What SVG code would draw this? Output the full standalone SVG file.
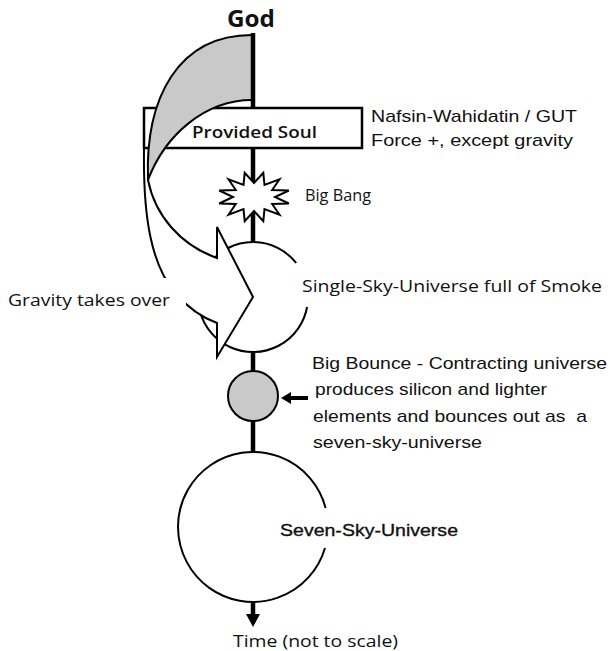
<svg xmlns="http://www.w3.org/2000/svg" width="611" height="651" viewBox="0 0 611 651">
<defs>
<style>
.ol{fill:#fff;stroke:#000;stroke-width:2}
.arc{fill:none;stroke:#000;stroke-width:2}
.gray{fill:#c9c9c9;stroke:#000;stroke-width:2}
.ln{stroke:#000;stroke-width:4.5;fill:none}
.sa{font-family:"Liberation Sans",Arial,sans-serif;font-size:17px;fill:#111}
.os{font-family:"Open Sans","Noto Sans",sans-serif;font-size:17px;fill:#111}
.osb{font-family:"Open Sans","Noto Sans",sans-serif;font-weight:700;fill:#111}
</style>
</defs>
<rect width="611" height="651" fill="#fff"/>
<g id="connectors">
<line class="ln" x1="253" y1="146" x2="253" y2="243"/>
<line class="ln" x1="253" y1="350" x2="253" y2="372"/>
<line class="ln" x1="253" y1="420" x2="253" y2="453"/>
<line class="ln" x1="253" y1="600" x2="253" y2="615"/>
<polygon points="246,614 260,614 253,627" fill="#000"/>
<line x1="308" y1="398" x2="289" y2="398" stroke="#000" stroke-width="4"/>
<polygon points="281,398 291,392 291,404" fill="#000"/>
</g>
<g id="seven-sky">
<circle cx="253" cy="527" r="75" fill="#fff"/>
<path class="arc" d="M325.6,508 A75,75 0 1 0 325,548"/>
</g>
<g id="big-bounce">
<circle class="gray" cx="253" cy="396" r="25"/>
</g>
<g id="single-sky">
<circle cx="253" cy="297" r="55" fill="#fff"/>
<path class="arc" d="M296.2,263 A55,55 0 1 0 307.1,307"/>
</g>
<g id="gravity-arrow">
<path class="ol" d="M146,112 L144,150 C143,220 152,265 175,293 C190,310 203,318 217,323 L217,357 L253,297 L217,227 L217,258 C180,245 155,215 148,180 L150,112 Z"/>
<rect x="0" y="278" width="186" height="32" fill="#fff"/>
</g>
<g id="big-bang">
<polygon class="ol" points="288.8,190.5 275,197 288.8,203.5 272.2,204 279.5,214.7 264.5,209.1 263.3,221.2 254,211 244.7,221.2 243.5,209.1 228.5,214.7 235.8,204 219.2,203.5 233,197 219.2,190.5 235.8,190 228.5,179.3 243.5,184.9 244.7,172.8 254,183 263.3,172.8 264.5,184.9 279.5,179.3 272.2,190"/>
</g>
<g id="provided-soul">
<rect x="144" y="108" width="218" height="40" fill="#fff" stroke="#000" stroke-width="2.5"/>
</g>
<g id="god-crescent">
<path class="gray" d="M252,35 C178,35 145,98 148,180 C165,135 205,100 252,100"/>
<line class="ln" x1="253" y1="33" x2="253" y2="108"/>
</g>
<g id="labels">
<text class="osb" x="227" y="27" font-size="24" textLength="48" lengthAdjust="spacingAndGlyphs">God</text>
<text class="os" x="192" y="138" font-size="18" font-weight="600" textLength="125" lengthAdjust="spacingAndGlyphs">Provided Soul</text>
<text class="sa" x="371" y="122" textLength="206" lengthAdjust="spacingAndGlyphs">Nafsin-Wahidatin / GUT</text>
<text class="sa" x="371" y="146" textLength="202" lengthAdjust="spacingAndGlyphs">Force +, except gravity</text>
<text class="os" x="305" y="201" font-size="19" textLength="66" lengthAdjust="spacingAndGlyphs">Big Bang</text>
<text class="os" x="8" y="306" font-size="18" textLength="162" lengthAdjust="spacingAndGlyphs">Gravity takes over</text>
<text class="os" x="302" y="292" font-size="17.5" textLength="300" lengthAdjust="spacingAndGlyphs">Single-Sky-Universe full of Smoke</text>
<text class="sa" x="312" y="369" textLength="295" lengthAdjust="spacingAndGlyphs">Big Bounce - Contracting universe</text>
<text class="sa" x="315" y="395" textLength="232" lengthAdjust="spacingAndGlyphs">produces silicon and lighter</text>
<text class="sa" x="313" y="422" textLength="274" lengthAdjust="spacingAndGlyphs" xml:space="preserve">elements and bounces out as  a</text>
<text class="sa" x="313" y="448" textLength="169" lengthAdjust="spacingAndGlyphs">seven-sky-universe</text>
<text class="sa" x="280" y="536" stroke="#111" stroke-width="0.35" textLength="178" lengthAdjust="spacingAndGlyphs">Seven-Sky-Universe</text>
<text class="os" x="233" y="647" font-size="19" textLength="165" lengthAdjust="spacingAndGlyphs">Time (not to scale)</text>
</g>
</svg>
